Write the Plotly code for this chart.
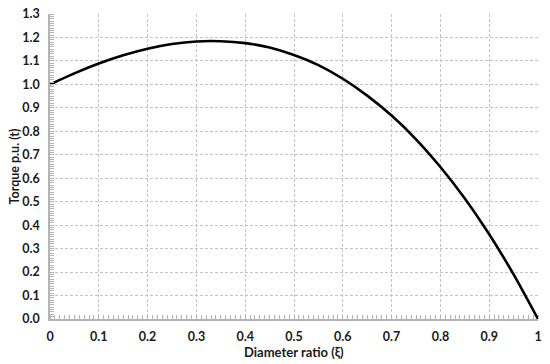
import plotly.graph_objects as go

# values
xi = [0, 0.05, 0.1, 0.15, 0.2, 0.25, 0.3, 0.35, 0.4, 0.45, 0.5,
      0.55, 0.6, 0.65, 0.7, 0.75, 0.8, 0.85, 0.9, 0.95, 1.0]
torque = [1.0, 1.047, 1.089, 1.124, 1.152, 1.172, 1.183, 1.184, 1.176, 1.157, 1.125,
          1.082, 1.024, 0.952, 0.867, 0.766, 0.648, 0.514, 0.361, 0.190, 0.0]

x_ticks = [0, 0.1, 0.2, 0.3, 0.4, 0.5, 0.6, 0.7, 0.8, 0.9, 1]
x_labels = ['0', '0.1', '0.2', '0.3', '0.4', '0.5', '0.6', '0.7', '0.8', '0.9', '1']
y_ticks = [round(i * 0.1, 1) for i in range(14)]
y_labels = ['%.1f' % v for v in y_ticks]

fam = 'Lato, Open Sans, sans-serif'
txt = '#1a1a1a'
grid = '#c4c4c4'
axis_col = '#b4b4b4'

fig = go.Figure(go.Scatter(
    x=xi, y=torque, mode='lines',
    line=dict(color='black', width=2.6, shape='spline', smoothing=0.6),
    hoverinfo='skip', showlegend=False))

common = dict(
    showgrid=True, gridcolor=grid, griddash='3px,2px', gridwidth=1,
    showline=True, linecolor=axis_col, linewidth=1.5, zeroline=False,
    ticks='', automargin=False, ticklabeloverflow='allow',
    minor=dict(ticks='inside', dtick=0.01, ticklen=4, tickcolor=axis_col, showgrid=False),
    tickfont=dict(family=fam, size=12.5, color=txt, weight='bold'),
)

fig.update_xaxes(range=[0, 1], tickvals=x_ticks, ticktext=x_labels,
                 ticklen=0, ticklabelstandoff=5, **common)
fig.update_yaxes(range=[0, 1.3], tickvals=y_ticks, ticktext=y_labels,
                 ticklabelstandoff=6, **common)

# axis titles
fig.add_annotation(text='<b>Diameter ratio (ξ)</b>', xref='paper', yref='paper',
                   x=0.5, y=0, xanchor='center', yanchor='middle', yshift=-33,
                   showarrow=False, font=dict(family=fam, size=13, color=txt))
fig.add_annotation(text='<b>Torque p.u. (t)</b>', xref='paper', yref='paper',
                   x=0, y=0.5, xanchor='center', yanchor='middle', xshift=-36,
                   textangle=-90, showarrow=False, font=dict(family=fam, size=12.5, color=txt))

fig.update_layout(
    width=550, height=364,
    margin=dict(l=50, r=12, t=14, b=45),
    paper_bgcolor='white', plot_bgcolor='white',
    font=dict(family=fam, size=12, color=txt),
)

# drop the default 8px body margin so the figure fills the window
fig.write_html("out.html", config={'displayModeBar': False},
               post_script="document.body.style.margin='0';")
